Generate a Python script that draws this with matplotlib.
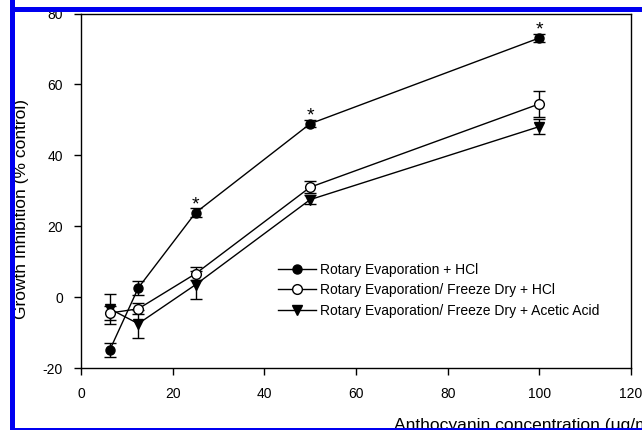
import matplotlib
matplotlib.use("Agg")
import matplotlib.pyplot as plt
from matplotlib.patches import Rectangle
from matplotlib.lines import Line2D

plt.rcParams["font.family"] = ["Liberation Sans", "DejaVu Sans"]
plt.rcParams["axes.unicode_minus"] = False

# concentrations (ug/mL) and growth inhibition (% control)
conc = [6.25, 12.5, 25, 50, 100]
hcl = [-15.0, 2.6, 23.8, 48.9, 73.1]
hcl_err = [2.0, 2.0, 1.3, 1.0, 1.0]
fd_hcl = [-4.5, -3.3, 6.6, 31.0, 54.5]
fd_hcl_err = [2.1, 1.5, 1.8, 1.7, 3.7]
fd_acetic = [-3.3, -7.5, 3.5, 27.5, 48.1]
fd_acetic_err = [4.3, 4.0, 3.9, 1.2, 2.2]
star_idx = [2, 3, 4]  # significant points (filled series)

labels = ["Rotary Evaporation + HCl",
          "Rotary Evaporation/ Freeze Dry + HCl",
          "Rotary Evaporation/ Freeze Dry + Acetic Acid"]

W, H = 642, 430
fig = plt.figure(figsize=(W / 100, H / 100), dpi=100)


def fx(px):
    return px / W


def fy(py):
    return 1 - py / H


ax = fig.add_axes([fx(81), fy(368), fx(631) - fx(81), fy(13.5) - fy(368)])

common = dict(color="black", lw=1.0, capsize=4, elinewidth=1.0, capthick=1.0)
ax.errorbar(conc, fd_acetic, yerr=fd_acetic_err, marker="v", ms=7.5,
            mfc="black", mec="black", **common)
ax.errorbar(conc, fd_hcl, yerr=fd_hcl_err, marker="o", ms=7,
            mfc="white", mec="black", **common)
ax.errorbar(conc, hcl, yerr=hcl_err, marker="o", ms=6.5,
            mfc="black", mec="black", **common)

for i in star_idx:
    ax.annotate("*", (conc[i], hcl[i]), xytext=(0, 2.4), textcoords="offset points",
                ha="center", va="baseline", fontsize=14)

ax.set_xlim(0, 120)
ax.set_ylim(-20, 80)
ax.set_xticks(range(0, 121, 20))
ax.set_yticks(range(-20, 81, 20))
ax.tick_params(direction="out", length=5, width=1, labelsize=10, top=False, right=False)
ax.tick_params(axis="y", pad=8)
ax.tick_params(axis="x", pad=9)
for s in ax.spines.values():
    s.set_linewidth(1.0)

handles = [
    Line2D([], [], color="black", lw=1, marker="o", ms=6.5, mfc="black"),
    Line2D([], [], color="black", lw=1, marker="o", ms=7, mfc="white"),
    Line2D([], [], color="black", lw=1, marker="v", ms=7.5, mfc="black"),
]
ax.legend(handles, labels, loc="upper left", frameon=False, fontsize=10,
          bbox_to_anchor=(fx(278), fy(263)), bbox_transform=fig.transFigure,
          borderaxespad=0, borderpad=0, handlelength=2.7, handletextpad=0.3,
          labelspacing=0.45)

fig.text(fx(22), fy(209), "Growth Inhibition (% control)", rotation=90,
         ha="center", va="center", fontsize=12.5)
fig.text(fx(394), fy(430), "Anthocyanin concentration (\u03bcg/mL)",
         ha="left", va="baseline", fontsize=12.5)

# white margin and blue frame of the cropped figure
blue = "#0000f0"
fig.patches.append(Rectangle((0, 0), fx(10), 1, transform=fig.transFigure,
                             facecolor="white", edgecolor="none", zorder=20))
fig.patches.append(Rectangle((0, fy(7)), 1, 1 - fy(7), transform=fig.transFigure,
                             facecolor="white", edgecolor="none", zorder=20))
fig.patches.append(Rectangle((0, 0), 1, fy(429.5), transform=fig.transFigure,
                             facecolor="white", edgecolor="none", zorder=20))
fig.patches.append(Rectangle((fx(10), 0), fx(15) - fx(10), 1, transform=fig.transFigure,
                             facecolor=blue, edgecolor="none", zorder=21))
fig.patches.append(Rectangle((fx(10), fy(12)), 1, fy(7) - fy(12), transform=fig.transFigure,
                             facecolor=blue, edgecolor="none", zorder=21))
fig.patches.append(Rectangle((fx(10), fy(429.5)), 1, fy(427.5) - fy(429.5),
                             transform=fig.transFigure,
                             facecolor=blue, edgecolor="none", zorder=21))

fig.savefig("out.png", dpi=100)
